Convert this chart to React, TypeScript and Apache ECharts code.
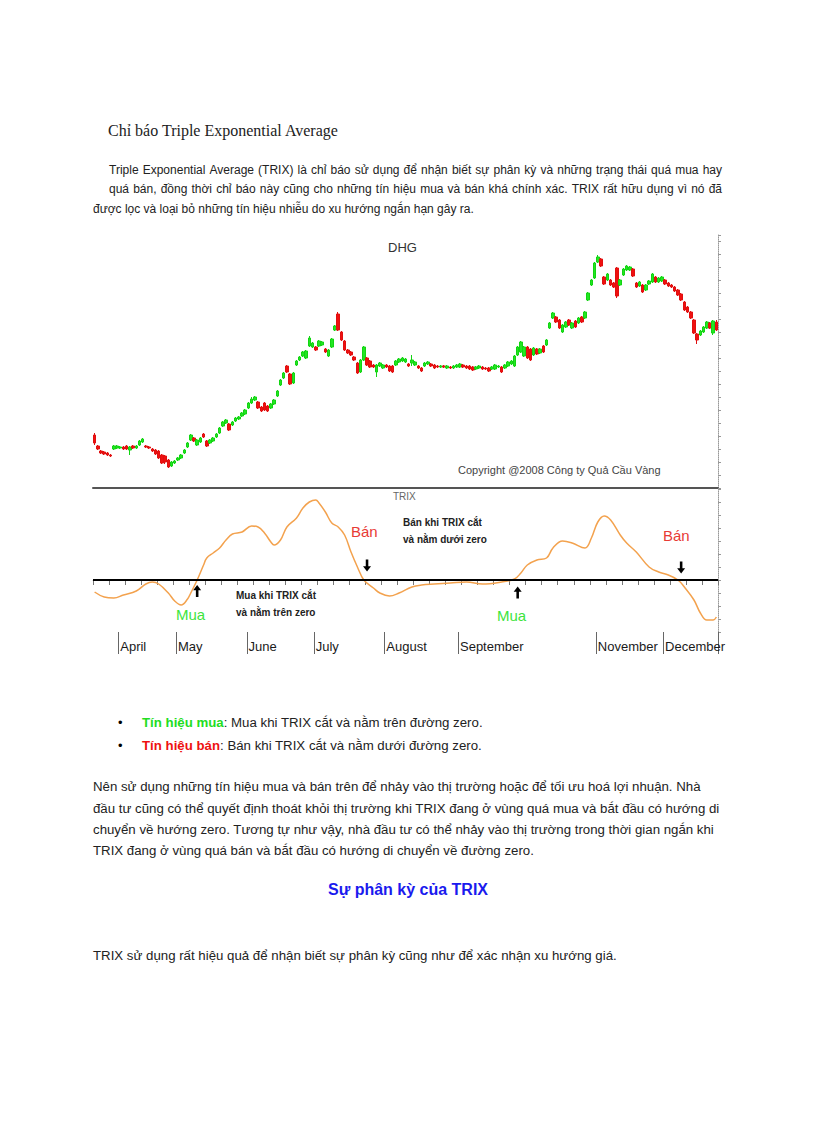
import React, { useEffect, useRef } from "react";
import * as echarts from "echarts";

// ---------- data ----------
const dayCount = 195;
const days = Array.from({ length: dayCount }, (_, i) => String(i));

// [open, close, low, high]
const candles = [
  [66,58,56,68],[55,52,51,56],[50,48,47,51],[49,47,46,50],[48,46,45,49],[46,45,44,47],
  [52,55,51,56],[53,55,52,56],[53,54,52,55],[54,52,51,55],[55,52,51,56],[51,54,46,55],
  [55,53,52,56],[53,55,52,56],[56,60,55,61],[59,62,58,63],[55,54,53,56],[54,53,52,55],
  [52,50,49,53],[51,47,46,52],[50,43,42,51],[46,38,37,47],[45,39,37,46],[41,34,33,42],
  [35,39,34,40],[38,40,37,41],[41,43,40,44],[43,46,42,47],[48,51,47,52],[54,58,53,59],
  [61,66,60,67],[63,60,59,64],[56,61,55,62],[59,63,58,64],[67,64,63,68],[60,55,54,61],
  [58,61,57,62],[60,63,59,64],[64,67,63,68],[68,73,67,74],[75,79,74,80],[78,81,77,82],
  [77,71,70,78],[76,79,75,80],[80,83,79,84],[82,84,81,85],[85,88,84,89],[87,91,86,92],
  [93,98,92,99],[98,102,97,104],[101,104,100,105],[99,93,92,100],[94,90,89,95],[98,91,90,99],
  [95,90,89,96],[93,97,92,98],[97,101,96,102],[105,110,104,111],[116,121,115,122],[123,128,122,129],
  [135,129,128,136],[127,117,116,128],[118,128,117,129],[136,140,135,141],[141,144,140,145],[145,149,144,150],
  [143,150,142,151],[155,163,154,165],[154,158,153,159],[154,151,150,155],[155,160,154,161],[156,159,155,160],
  [152,149,148,153],[145,151,144,152],[154,162,153,163],[171,175,170,176],[187,171,170,189],[169,161,160,170],
  [160,151,150,161],[151,148,147,152],[149,146,145,150],[144,141,140,145],[138,128,127,139],[129,141,128,142],
  [141,154,140,155],[143,136,135,144],[140,134,133,141],[136,134,133,137],[129,136,124,137],[135,138,134,139],
  [133,136,132,137],[136,134,133,137],[135,130,129,136],[135,129,128,136],[136,140,135,141],[139,142,138,143],
  [140,143,139,144],[139,142,138,143],[137,135,134,138],[138,141,135,146],[136,139,135,140],[135,133,132,136],
  [133,130,129,134],[135,138,134,139],[137,139,136,140],[137,135,134,138],[136,133,132,137],[135,134,133,136],
  [134,135,133,136],[135,134,133,136],[133,135,132,136],[134,133,132,135],[133,135,132,136],[134,136,133,137],
  [134,137,133,138],[136,134,133,137],[135,133,132,136],[135,132,131,136],[134,131,130,135],[132,134,131,135],
  [133,135,132,136],[134,132,131,135],[133,132,131,134],[133,130,129,134],[132,134,131,135],[132,136,131,137],
  [134,135,133,136],[134,129,128,135],[133,136,132,137],[135,139,134,140],[137,140,136,141],[135,145,134,146],
  [146,154,145,155],[149,159,148,160],[145,154,144,155],[154,143,142,155],[152,141,140,153],[146,153,145,154],
  [152,147,146,153],[148,152,147,153],[155,149,148,156],[156,161,155,162],[173,178,172,179],[183,188,182,189],
  [184,179,178,185],[181,173,172,182],[169,176,168,177],[174,179,173,180],[181,176,175,182],[173,178,172,179],
  [180,174,173,181],[178,183,177,184],[184,179,178,185],[183,189,182,190],[201,208,200,209],[216,221,215,222],
  [223,238,222,239],[239,244,238,246],[242,235,234,243],[224,217,216,225],[221,227,220,228],[221,216,215,222],
  [218,214,213,219],[233,205,203,234],[216,221,215,222],[226,232,225,233],[231,235,230,236],[231,234,230,235],
  [232,225,224,233],[218,214,213,219],[215,219,214,220],[216,209,208,217],[211,216,210,217],[217,220,216,221],
  [219,227,218,228],[224,219,218,225],[219,223,218,224],[220,224,219,225],[221,217,216,222],[218,215,214,219],
  [216,214,213,217],[214,210,209,215],[211,206,205,212],[207,201,200,208],[199,191,190,200],[194,189,188,195],
  [189,183,182,190],[181,168,167,182],[167,161,157,168],[166,170,165,171],[169,174,168,175],[173,179,172,180],
  [178,173,172,179],[168,180,166,181],[179,171,170,181]
];

const trixDays = [0,3,6,9,13,16,18,20,23,25,27,29,30,32,34,35,37,39,41,43,46,49,51,53,55,56,58,60,63,65,67,69,70,72,74,76,78,80,82,84,87,89,92,95,99,102,106,111,116,121,127,131,133,135,138,141,143,146,149,153,155,157,159,161,164,166,169,173,176,179,182,184,187,189,191,193,194];
const trixValues = [-0.12,-0.17,-0.18,-0.15,-0.11,-0.04,-0.02,-0.04,-0.13,-0.21,-0.25,-0.19,-0.13,0.0,0.15,0.22,0.27,0.32,0.40,0.46,0.48,0.54,0.53,0.47,0.38,0.35,0.40,0.53,0.62,0.72,0.78,0.80,0.77,0.68,0.57,0.53,0.45,0.28,0.13,0.0,-0.08,-0.13,-0.16,-0.13,-0.07,-0.05,-0.04,-0.03,-0.02,-0.04,-0.02,0.01,0.07,0.15,0.20,0.22,0.32,0.39,0.37,0.32,0.42,0.58,0.64,0.60,0.45,0.37,0.28,0.13,0.08,0.05,0.0,-0.07,-0.20,-0.33,-0.40,-0.40,-0.37];

const monthLabels = ["April", "May", "June", "July", "August", "September", "November", "December"];
const monthStarts = [8, 26, 48, 69, 91, 114, 157, 178];

// signals: [day, trix value]
const buySignals = [[32, -0.11], [132, -0.125]];
const sellSignals = [[85, 0.145], [183, 0.125]];

const SANS = "Liberation Sans, Arial, sans-serif";
const SERIF = "Liberation Serif, Times New Roman, serif";

const upArrow = "path://M5,0 L10,6 L6.6,6 L6.6,14 L3.4,14 L3.4,6 L0,6 Z";
const downArrow = "path://M3.4,0 L6.6,0 L6.6,8 L10,8 L5,14 L0,8 L3.4,8 Z";

function txt(x: number, y: number, text: string, size: number, fill = "#222", extra: any = {}) {
  return {
    type: "text",
    x,
    y,
    silent: true,
    style: {
      text,
      fontSize: size,
      fontFamily: SANS,
      fill,
      align: "left",
      verticalAlign: "middle",
      ...extra,
    },
  };
}

let measureCtx: CanvasRenderingContext2D | null = null;
function measure(s: string, size: number) {
  if (!measureCtx) measureCtx = document.createElement("canvas").getContext("2d");
  if (!measureCtx) return s.length * size * 0.5;
  measureCtx.font = `${size}px "Liberation Sans", Arial, sans-serif`;
  return measureCtx.measureText(s).width;
}

// justified line: words spread between x0 and x1
function justified(x0: number, x1: number, y: number, line: string, size: number, fill = "#222") {
  const words = line.split(" ");
  const widths = words.map((w) => measure(w, size));
  const total = widths.reduce((a, b) => a + b, 0);
  const gap = words.length > 1 ? (x1 - x0 - total) / (words.length - 1) : 0;
  const els: any[] = [];
  let x = x0;
  words.forEach((w, i) => {
    els.push(txt(x, y, w, size, fill));
    x += widths[i] + gap;
  });
  return els;
}

export default function App() {
  const ref = useRef<HTMLDivElement>(null);
  useEffect(() => {
    if (!ref.current) return;
    const chart = echarts.init(ref.current, undefined, { renderer: "svg" });
    const axisGrey = "#999";
    const P = 13.25;
    const option: any = {
      animation: false,
      backgroundColor: "#fff",
      grid: [
        { left: 93, width: 625, top: 235, height: 253 },
        { left: 93, width: 625, top: 489, height: 143 },
      ],
      xAxis: [
        {
          type: "category", gridIndex: 0, data: days, boundaryGap: true,
          axisLine: { show: true, lineStyle: { color: "#555", width: 2 } },
          axisTick: { show: false }, axisLabel: { show: false }, splitLine: { show: false },
        },
        {
          type: "category", gridIndex: 1, data: days, boundaryGap: true,
          axisLine: { show: true, lineStyle: { color: "#bbb", width: 1 } },
          axisTick: { show: true, interval: 4, length: 5, lineStyle: { color: "#777" } },
          axisLabel: { show: false }, splitLine: { show: false },
        },
        {
          type: "category", gridIndex: 1, data: days, boundaryGap: true, position: "bottom",
          axisLine: { show: false },
          axisTick: {
            show: true, length: 22, lineStyle: { color: "#666" },
            interval: (i: number) => monthStarts.indexOf(i) >= 0,
          },
          axisLabel: {
            show: true, interval: (i: number) => monthStarts.indexOf(i) >= 0,
            formatter: (_v: string, i: number) => {
              const k = monthStarts.indexOf(i);
              return k >= 0 ? monthLabels[k] : "";
            },
            align: "left", margin: 8, fontSize: 13, color: "#1a1a1a", fontFamily: SANS,
          },
          splitLine: { show: false },
        },
      ],
      yAxis: [
        {
          type: "value", gridIndex: 0, position: "right", min: 13, max: 266, interval: 13,
          axisLine: { show: true, lineStyle: { color: axisGrey, type: "dotted" } },
          axisTick: { show: true, length: 3, lineStyle: { color: axisGrey } },
          axisLabel: { show: false }, splitLine: { show: false },
        },
        {
          type: "value", gridIndex: 1, position: "right", min: -0.52, max: 0.91, interval: 0.13,
          axisLine: { show: true, lineStyle: { color: axisGrey, type: "dotted" } },
          axisTick: { show: true, length: 3, lineStyle: { color: axisGrey } },
          axisLabel: { show: false }, splitLine: { show: false },
        },
      ],
      series: [
        {
          type: "candlestick", xAxisIndex: 0, yAxisIndex: 0, data: candles, barWidth: 3,
          itemStyle: {
            color: "#22e622", color0: "#f01010",
            borderColor: "#12d412", borderColor0: "#e01010", borderWidth: 1,
          },
          silent: true,
        },
        {
          type: "line", xAxisIndex: 1, yAxisIndex: 1, smooth: 0.4, showSymbol: false,
          data: trixDays.map((d, i) => [d, trixValues[i]]),
          lineStyle: { color: "#f3a24e", width: 1.5 },
          silent: true,
          markLine: {
            silent: true, symbol: ["none", "none"], label: { show: false },
            lineStyle: { color: "#000", width: 2, type: "solid" },
            data: [{ yAxis: 0 }],
          },
          markPoint: {
            silent: true, label: { show: false },
            data: [
              ...buySignals.map((s) => ({ coord: s, symbol: upArrow, symbolSize: [8, 12], itemStyle: { color: "#000" } })),
              ...sellSignals.map((s) => ({ coord: s, symbol: downArrow, symbolSize: [8, 12], itemStyle: { color: "#000" } })),
            ],
          },
        },
      ],
      graphic: [
        // document text
        { type: "text", x: 108, y: 130, silent: true, style: { text: "Chỉ báo Triple Exponential Average", fontSize: 16, fontFamily: SERIF, fill: "#222", align: "left", verticalAlign: "middle" } },
        ...justified(109, 722, 170, "Triple Exponential Average (TRIX) là chỉ báo sử dụng để nhận biết sự phân kỳ và những trạng thái quá mua hay", 12),
        ...justified(109, 722, 189, "quá bán, đồng thời chỉ báo này cũng cho những tín hiệu mua và bán khá chính xác. TRIX rất hữu dụng vì nó đã", 12),
        txt(93, 209, "được lọc và loại bỏ những tín hiệu nhiễu do xu hướng ngắn hạn gây ra.", 12),
        // chart annotations
        txt(388, 247, "DHG", 13, "#333"),
        txt(458, 470, "Copyright @2008 Công ty Quả Cầu Vàng", 11, "#444"),
        txt(393, 496, "TRIX", 10, "#666"),
        txt(351, 531, "Bán", 15, "#e83a35"),
        txt(663, 535, "Bán", 15, "#e83a35"),
        txt(176, 614, "Mua", 15, "#3de43d"),
        txt(497, 615, "Mua", 15, "#3de43d"),
        txt(236, 595, "Mua khi TRIX cắt", 10, "#222", { fontWeight: "bold" }),
        txt(236, 612, "và nằm trên zero", 10, "#222", { fontWeight: "bold" }),
        txt(403, 522, "Bán khi TRIX cắt", 10, "#222", { fontWeight: "bold" }),
        txt(403, 539, "và nằm dưới zero", 10, "#222", { fontWeight: "bold" }),
        // bullets
        txt(118, 722, "•", 13, "#000"),
        txt(118, 745, "•", 13, "#000"),
        txt(142, 722, "{g|Tín hiệu mua}: Mua khi TRIX cắt và nằm trên đường zero.", P, "#222", {
          rich: { g: { fill: "#22dd22", fontWeight: "bold", fontSize: P, fontFamily: SANS } },
        }),
        txt(142, 745, "{r|Tín hiệu bán}: Bán khi TRIX cắt và nằm dưới đường zero.", P, "#222", {
          rich: { r: { fill: "#ee1111", fontWeight: "bold", fontSize: P, fontFamily: SANS } },
        }),
        txt(93, 786, "Nên sử dụng những tín hiệu mua và bán trên để nhảy vào thị trường hoặc để tối ưu hoá lợi nhuận. Nhà", P),
        txt(93, 808, "đầu tư cũng có thể quyết định thoát khỏi thị trường khi TRIX đang ở vùng quá mua và bắt đầu có hướng di", P),
        txt(93, 829, "chuyển về hướng zero. Tương tự như vậy, nhà đầu tư có thể nhảy vào thị trường trong thời gian ngắn khi", P),
        txt(93, 850, "TRIX đang ở vùng quá bán và bắt đầu có hướng di chuyển về đường zero.", P),
        { type: "text", x: 408, y: 889, silent: true, style: { text: "Sự phân kỳ của TRIX", fontSize: 16, fontWeight: "bold", fontFamily: SANS, fill: "#1a1aee", align: "center", verticalAlign: "middle" } },
        txt(93, 955, "TRIX sử dụng rất hiệu quả để nhận biết sự phân kỳ cũng như để xác nhận xu hướng giá.", P),
      ],
    };
    chart.setOption(option);
    return () => chart.dispose();
  }, []);
  return (
    <div
      ref={ref}
      style={{ position: "absolute", left: 0, top: 0, width: 816, height: 1123, background: "#fff" }}
    />
  );
}
